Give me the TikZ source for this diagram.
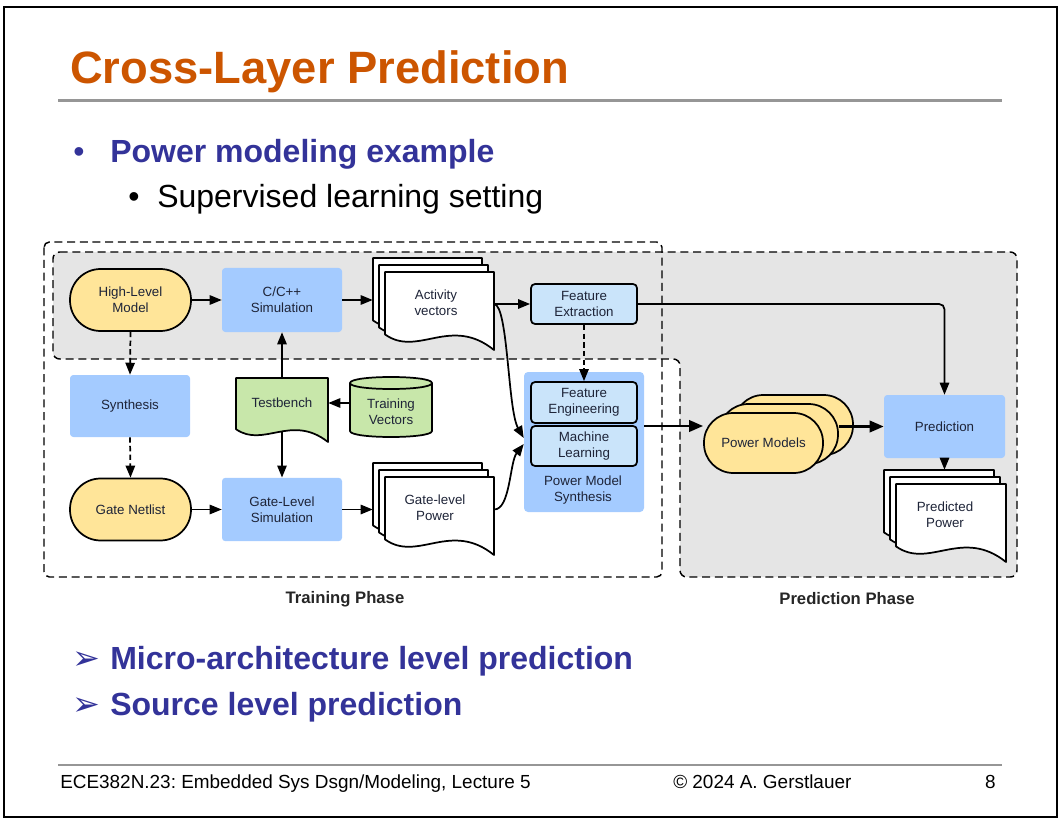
\documentclass[tikz,border=0pt]{standalone}
\usepackage{fontspec}
\setmainfont{Liberation Sans}
\newfontfamily\dingfont{DejaVu Sans}
\usetikzlibrary{arrows.meta,calc}
\frenchspacing

\definecolor{titleorange}{RGB}{204,85,0}
\definecolor{headblue}{RGB}{51,51,153}
\definecolor{ruleGray}{RGB}{150,150,150}
\definecolor{modelYellow}{RGB}{255,229,153}
\definecolor{procBlue}{RGB}{164,203,255}
\definecolor{featBlue}{RGB}{202,228,250}
\definecolor{dataGreen}{RGB}{200,231,170}
\definecolor{phaseGray}{RGB}{229,229,229}
\definecolor{ink}{RGB}{30,36,56}

% one page of a document symbol: fill, left, top, width, height (px)
\newcommand\docpage[5]{%
  \draw[line width=1.3pt, fill=#1, line join=round]
    (#2,{#3+0.8*#5}) -- (#2,#3) -- ({#2+#4},#3) -- ({#2+#4},{#3+#5})
    .. controls ({#2+0.6*#4},{#3+0.55*#5}) and ({#2+0.3*#4},{#3+1.1*#5})
    .. (#2,{#3+0.8*#5}) -- cycle;}
% a stack of three pages, the back page at (left, top)
\newcommand\docstack[4]{%
  \docpage{white}{#1}{#2}{#3}{#4}%
  \docpage{white}{#1+6}{#2+7}{#3}{#4}%
  \docpage{white}{#1+12}{#2+14}{#3}{#4}}

\begin{document}
\begin{tikzpicture}[x=0.75pt, y=-0.75pt,
  every node/.style={font=\fontsize{10}{12}\selectfont, text=ink, align=center, inner sep=0pt},
  model/.style={draw, line width=1.3pt, fill=modelYellow, rounded corners=23pt,
                minimum width=90.75pt, minimum height=46.5pt},
  proc/.style={fill=procBlue, rounded corners=2.5pt, minimum width=90pt, minimum height=47.5pt},
  feat/.style={draw, line width=1.3pt, fill=featBlue, rounded corners=3pt,
               minimum width=79.5pt, minimum height=30pt},
  flow/.style={line width=1.3pt, -{Triangle[length=9pt,width=7pt]}},
  heavyflow/.style={line width=2pt, -{Triangle[length=10.5pt,width=8.5pt]}},
  synth flow/.style={flow, dash pattern=on 4pt off 2.5pt},
  phase/.style={line width=1.1pt, dash pattern=on 6pt off 3.5pt},
  slidetext/.style={anchor=base west, text=black, align=left},
]
\useasboundingbox (0,0) rectangle (1061,820);

% slide frame, title and rules
\draw[line width=1.5pt] (4,7) rectangle (1057,817);
\node[slidetext, font=\bfseries\fontsize{34}{40}\selectfont, text=titleorange] (title) at (70,84) {Cross-Layer Prediction};
\draw[ruleGray, line width=2.25pt] (58,101) -- (1002,101);

\node[slidetext, font=\fontsize{24}{28}\selectfont, text=headblue] (b1dot) at (73,163) {•};
\node[slidetext, font=\bfseries\fontsize{24}{28}\selectfont, text=headblue] (b1) at (110,163) {Power modeling example};
\node[slidetext, font=\fontsize{24}{28}\selectfont] (b2dot) at (128,208) {•};
\node[slidetext, font=\fontsize{24}{28}\selectfont] (b2) at (157,208) {Supervised learning setting};

\node[slidetext, font=\dingfont\fontsize{25}{28}\selectfont, text=headblue] (a1) at (72,669) {➢};
\node[slidetext, font=\bfseries\fontsize{24}{28}\selectfont, text=headblue] (m1) at (110,669) {Micro-architecture level prediction};
\node[slidetext, font=\dingfont\fontsize{25}{28}\selectfont, text=headblue] (a2) at (72,715) {➢};
\node[slidetext, font=\bfseries\fontsize{24}{28}\selectfont, text=headblue] (m2) at (110,715) {Source level prediction};

\draw[ruleGray, line width=1.5pt] (58,765) -- (1002,765);
\node[slidetext, font=\fontsize{14.2}{17}\selectfont] (foot1) at (60,788) {ECE382N.23: Embedded Sys Dsgn/Modeling, Lecture 5};
\node[slidetext, font=\fontsize{14.2}{17}\selectfont] (foot2) at (673,788) {© 2024 A. Gerstlauer};
\node[anchor=base east, text=black, font=\fontsize{14.2}{17}\selectfont] (foot3) at (996,788) {8};

% phase regions
\draw[phase, fill=phaseGray, rounded corners=5pt]
  (53,252) -- (1017,252) -- (1017,577) -- (680,577) -- (680,359) -- (53,359) -- cycle;
\draw[phase, rounded corners=4pt] (44,242) rectangle (662,577);
\node[font=\bfseries\fontsize{12.5}{15}\selectfont, text=black!85] (trainlabel) at (345,599) {Training Phase};
\node[font=\bfseries\fontsize{12.5}{15}\selectfont, text=black!85] (predlabel) at (847,599) {Prediction Phase};

% document stacks and data stores
\docstack{373}{258}{109}{78}
\node[minimum width=90.75pt, minimum height=69pt] (actbox) at (433.5,304) {};
\node (act) at (436,303) {Activity\\vectors};

\docstack{373}{463}{109}{78}
\node[minimum width=90.75pt, minimum height=69pt] (gpbox) at (433.5,509) {};
\node (gp) at (435,508) {Gate-level\\Power};

\docstack{884}{470}{110}{78}
\node[minimum width=91.5pt, minimum height=69pt] (ppbox) at (945,516) {};
\node (pp) at (945,515) {Predicted\\Power};

\docpage{dataGreen}{236}{378}{92}{64}
\node[minimum width=69pt, minimum height=48pt] (tbbox) at (282,410) {};
\node (tb) at (282,403) {Testbench};

\draw[line width=1.3pt, fill=dataGreen]
  (350,383) -- (350,431) .. controls (350,439) and (432,439) .. (432,431)
  -- (432,383) .. controls (432,375) and (350,375) .. (350,383) -- cycle;
\draw[line width=1.3pt] (350,383) .. controls (350,391) and (432,391) .. (432,383);
\node[minimum width=61.5pt, minimum height=45pt] (tvbox) at (391,407) {};
\node (tv) at (391,412) {Training\\Vectors};

% flow steps
\node[model] (hlm) at (130.5,300) {High-Level\\Model};
\node[proc, minimum height=48pt] (csim) at (282,300) {C/C++\\Simulation};
\node[feat] (fext) at (584,304) {Feature\\Extraction};
\node[proc, minimum height=46.5pt] (syn) at (130,406) {Synthesis};
\node[model] (gn) at (130.5,509.5) {Gate Netlist};
\node[proc] (gsim) at (282,509.5) {Gate-Level\\Simulation};

\node[fill=procBlue, rounded corners=3pt, minimum width=90pt, minimum height=105pt] (pms) at (584,442) {};
\node (pmslabel) at (583,490) {Power Model\\Synthesis};
\node[feat, minimum height=30.75pt] (fe) at (584,402.5) {Feature\\Engineering};
\node[feat] (ml) at (584,446) {Machine\\Learning};

\node[model, minimum width=89.25pt, minimum height=45pt, rounded corners=22pt] (pmback) at (793.5,425) {};
\node[model, minimum width=89.25pt, minimum height=45pt, rounded corners=22pt] (pmmid) at (778.5,434) {};
\node[model, minimum width=89.25pt, minimum height=45pt, rounded corners=22pt] (pm) at (763.5,443) {Power Models};
\node[proc, minimum width=90.75pt, minimum height=47.25pt] (pred) at (944.5,426.5) {Prediction};

% connectors
\draw[flow] (hlm.east) -- (csim.west);
\draw[flow] (csim.east) -- (csim.east -| actbox.west);
\draw[flow] (fext.west -| actbox.east) -- (fext.west);
\draw[flow] (fext.west -| actbox.east) .. controls +(14,2) and +(-16,-28) .. ([yshift=3pt]pms.west);
\draw[flow] (gsim.east) -- (gsim.east -| gpbox.west);
\draw[flow] (gsim.east -| gpbox.east) .. controls +(16,0) and +(-14,18) .. ([yshift=-1.5pt]pms.west);
\draw[synth flow] (fext.south) -- (fe.north);
\draw[flow, rounded corners=4pt] (fext.east) -| (pred.north);
\draw[synth flow] (hlm.south) -- (syn.north);
\draw[synth flow] (syn.south) -- (gn.north);
\draw[flow] (tbbox.north) -- (csim.south);
\draw[flow] (tvbox.west |- tb) -- (tbbox.east |- tb);
\draw[flow] ([yshift=7.5pt]tbbox.south) -- (gsim.north);
\draw[flow] (gn.east) -- (gsim.west);
\draw[heavyflow] ([yshift=12pt]pms.east) -- ([yshift=12pt]pms.east -| pm.west);
\draw[heavyflow] (pred.west -| pmmid.east) -- (pred.west);
\draw[flow] (pred.south) -- (pred.south |- ppbox.north);
\end{tikzpicture}
\end{document}
